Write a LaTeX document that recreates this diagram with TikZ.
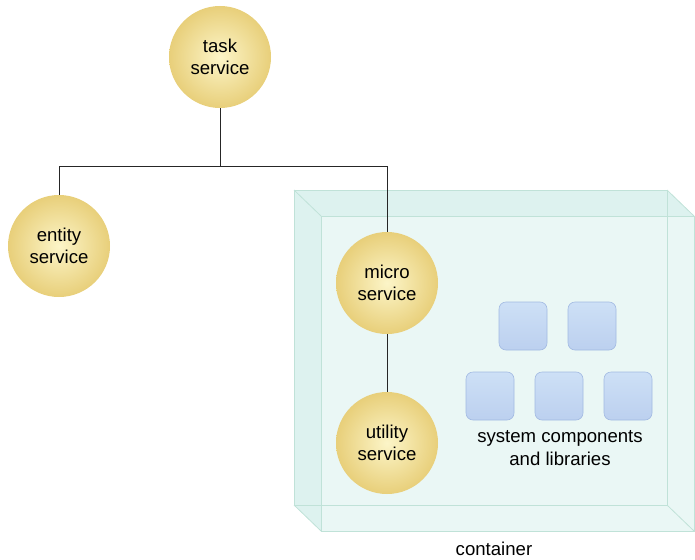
\documentclass[tikz,border=0pt]{standalone}
\usepackage{fontspec}
\setmainfont{Liberation Sans}
\usetikzlibrary{calc}

\definecolor{ballin}{RGB}{252,245,200}
\definecolor{ballout}{RGB}{232,207,122}
\definecolor{boxside}{RGB}{221,242,239}
\definecolor{boxfront}{RGB}{234,247,245}
\definecolor{boxedge}{RGB}{192,226,216}
\definecolor{comptop}{RGB}{205,224,246}
\definecolor{compbot}{RGB}{188,208,239}
\definecolor{compedge}{RGB}{162,186,226}

\begin{document}
\begin{tikzpicture}[x=1pt, y=-1pt, font=\fontsize{18.6}{22.5}\selectfont]

    % --- Paramètres ---
    \def\dX{27}      % Profondeur du conteneur (x)
    \def\dY{26}      % Profondeur du conteneur (y)
    \def\yBus{166}   % Hauteur de la ligne de liaison

    \useasboundingbox (0,0) rectangle (695,559);

    % --- Styles ---
    \tikzstyle{svc} = [circle, minimum size=102pt, inner sep=0pt, align=center, inner color=ballin, outer color=ballout]
    \tikzstyle{comp} = [rounded corners=7pt, minimum size=48pt, top color=comptop, bottom color=compbot, draw=compedge, line width=0.6pt]
    \tikzstyle{link} = [draw=black!85, line width=1pt]
    \tikzstyle{edge} = [draw=boxedge, line width=0.8pt]

    % --- Conteneur (boîte translucide) ---
    \coordinate (B1) at (294,190);
    \coordinate (B2) at (667,190);
    \coordinate (B3) at (667,505);
    \coordinate (B4) at (294,505);
    \coordinate (F1) at ($(B1)+(\dX,\dY)$);
    \coordinate (F2) at ($(B2)+(\dX,\dY)$);
    \coordinate (F3) at ($(B3)+(\dX,\dY)$);
    \coordinate (F4) at ($(B4)+(\dX,\dY)$);

    \fill[boxside] (B1) -- (B2) -- (F2) -- (F3) -- (F4) -- (B4) -- cycle;
    \fill[boxfront] (F1) rectangle (F3);
    \draw[edge] (B1) rectangle (B3);
    \draw[edge] (F1) rectangle (F3);
    \draw[edge] (B1) -- (F1) (B2) -- (F2) (B3) -- (F3) (B4) -- (F4);

    % --- Services ---
    \node[svc] (task) at (220,57) {task\\service};
    \node[svc] (entity) at (59,246) {entity\\service};
    \node[svc] (micro) at (387,283) {micro\\service};
    \node[svc] (utility) at (387,443) {utility\\service};

    % --- Liaisons ---
    \coordinate (bus) at (task.south |- 0,\yBus);
    \draw[link] (task.south) -- (bus);
    \draw[link] (entity.north) -- (entity.north |- bus) -- (micro.north |- bus) -- (micro.north);
    \draw[link] (micro.south) -- (utility.north);

    % --- Composants système ---
    \foreach \x/\y [count=\i] in {523/326, 592/326, 490/396, 559/396, 628/396}
        \node[comp] (comp\i) at (\x,\y) {};

    \node[align=center] (syslbl) at (560,448) {system components\\and libraries};
    \node (contlbl) at (494,549) {container};

\end{tikzpicture}
\end{document}
